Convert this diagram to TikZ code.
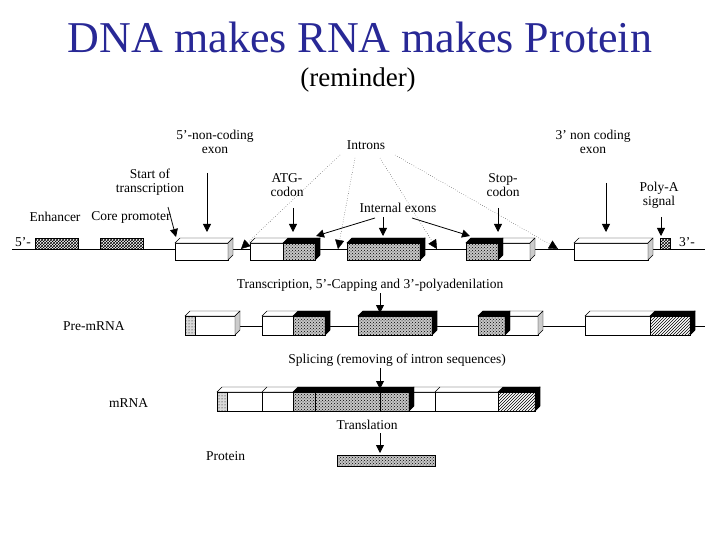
\documentclass[tikz,border=0pt]{standalone}
\usepackage{fontspec}
\setmainfont{Liberation Serif}
\usetikzlibrary{patterns,arrows.meta,calc}
\definecolor{ttl}{RGB}{40,40,150}
\newcommand\exbox[4]{% x1 x2 ytop ybot
 \filldraw[fill=white] (#1,#3) rectangle (#2,#4);
 \filldraw[fill=white] (#1,#3) -- ++(5,-5) -- ($(#2,#3)+(5,-5)$) -- (#2,#3) -- cycle;
 \filldraw[fill=gray!40] (#2,#3) -- ++(5,-5) -- ($(#2,#4)+(5,-5)$) -- (#2,#4) -- cycle;}
\newcommand\darkseg[4]{%
 \fill[gray!45] (#1,#3) rectangle (#2,#4);
 \fill[pattern=crosshatch dots] (#1,#3) rectangle (#2,#4);
 \draw (#1,#3) rectangle (#2,#4);
 \filldraw[fill=black] (#1,#3) -- ++(5,-5) -- ($(#2,#3)+(5,-5)$) -- (#2,#3) -- cycle;
 \filldraw[fill=black] (#2,#3) -- ++(5,-5) -- ($(#2,#4)+(5,-5)$) -- (#2,#4) -- cycle;}
\newcommand\wavyseg[4]{%
 \fill[white] (#1,#3) rectangle (#2,#4);
 \fill[pattern=north east lines] (#1,#3) rectangle (#2,#4);
 \draw (#1,#3) rectangle (#2,#4);
 \filldraw[fill=black] (#1,#3) -- ++(5,-5) -- ($(#2,#3)+(5,-5)$) -- (#2,#3) -- cycle;
 \filldraw[fill=black] (#2,#3) -- ++(5,-5) -- ($(#2,#4)+(5,-5)$) -- (#2,#4) -- cycle;}
\newcommand\capseg[4]{%
 \fill[gray!30] (#1,#3) rectangle (#2,#4);
 \fill[pattern=dots] (#1,#3) rectangle (#2,#4);
 \draw (#1,#3) rectangle (#2,#4);}
\begin{document}
\begin{tikzpicture}[x=1pt,y=-1pt,
 lbl/.style={font=\fontsize{13.5}{14}\selectfont,align=center,inner sep=1pt},
 arr/.style={-{Triangle[length=8pt,width=8pt]},thick},
 dot/.style={dotted,-{Triangle[length=9pt,width=9pt]}}]
\useasboundingbox (0,0) rectangle (720,540);
\node[text=ttl,font=\fontsize{44}{48}\selectfont] (title) at (360,37) {DNA makes RNA makes Protein};
\node[font=\fontsize{27}{30}\selectfont] (rem) at (358,80) {(reminder)};
% DNA
\coordinate (l0) at (12,249); \coordinate (l1) at (705,249);
\draw (l0) -- (l1);
\node[lbl,anchor=east] (f5) at (32,242) {5'-};
\node[lbl,anchor=west] (f3) at (678,242) {3'-};
\fill[white] (35,238) rectangle (78,249); \draw[pattern=crosshatch] (35,238) rectangle (78,249);
\fill[white] (100,238) rectangle (143,249); \draw[pattern=crosshatch] (100,238) rectangle (143,249);
\fill[white] (660,238) rectangle (670,249); \draw[pattern=crosshatch] (660,238) rectangle (670,249);
\node[lbl] (enh) at (55,217) {Enhancer};
\node[lbl] (cp) at (131,217) {Core promoter};
\exbox{175}{228}{243}{260}
\exbox{250}{315}{243}{260}\darkseg{283}{315}{243}{260}
\exbox{347}{420}{243}{260}\darkseg{347}{420}{243}{260}
\exbox{466}{530}{243}{260}\darkseg{466}{498}{243}{260}
\exbox{574}{648}{243}{260}
\node[lbl] (st) at (150,182) {Start of\\transcription};
\node[lbl] (nc5) at (215,142) {5'-non-coding\\exon};
\node[lbl] (atg) at (287,185) {ATG-\\codon};
\node[lbl] (intr) at (366,145) {Introns};
\node[lbl] (ie) at (398,208) {Internal exons};
\node[lbl] (stop) at (503,185) {Stop-\\codon};
\node[lbl] (nc3) at (593,142) {3' non coding\\exon};
\node[lbl] (pa) at (659,195) {Poly-A\\signal};
\coordinate (a1) at (176,237); \draw[arr] (168,207) -- (a1);
\coordinate (a2) at (207,232); \draw[arr] (207,173) -- (a2);
\coordinate (a3) at (293,232); \draw[arr] (293,208) -- (a3);
\coordinate (a4) at (316,236); \coordinate (a5) at (383,236); \coordinate (a6) at (470,236);
\draw[arr] (375,218) -- (a4); \draw[arr] (383,217) -- (a5); \draw[arr] (412,218) -- (a6);
\coordinate (a7) at (498,232); \draw[arr] (498,208) -- (a7);
\coordinate (a8) at (606,232); \draw[arr] (606,183) -- (a8);
\coordinate (a9) at (661,236); \draw[arr] (661,217) -- (a9);
\coordinate (t1) at (241,249); \coordinate (t2) at (338,249); \coordinate (t3) at (437,249); \coordinate (t4) at (558,249);
\draw[dot] (340,155) -- (t1); \draw[dot] (355,158) -- (t2);
\draw[dot] (380,158) -- (t3); \draw[dot] (395,155) -- (t4);
% pre-mRNA
\node[lbl,anchor=west] (pre) at (62,326) {Pre-mRNA};
\draw (185,326) -- (705,326);
\exbox{185}{235}{316}{335}\capseg{185}{195}{316}{335}
\exbox{262}{325}{316}{335}\darkseg{293}{325}{316}{335}
\exbox{358}{432}{316}{335}\darkseg{358}{432}{316}{335}
\exbox{478}{538}{316}{335}\darkseg{478}{505}{316}{335}
\exbox{585}{690}{316}{335}\wavyseg{650}{690}{316}{335}
\node[lbl] (tr) at (370,285) {Transcription, 5'-Capping and 3'-polyadenilation};
\coordinate (b1) at (380,313); \draw[arr] (380,293) -- (b1);
% mRNA
\node[lbl,anchor=west] (mr) at (108,403) {mRNA};
\exbox{217}{535}{392}{411}\capseg{217}{227}{392}{411}
\darkseg{293}{409}{392}{411}
\wavyseg{498}{535}{392}{411}
\foreach \xx in {262,315,380,435}{\draw (\xx,392) -- (\xx,411);}
\foreach \xx in {262,435}{\draw (\xx,392) -- ++(5,-5);}
\node[lbl] (sp) at (397,360) {Splicing (removing of intron sequences)};
\coordinate (b2) at (380,389); \draw[arr] (380,368) -- (b2);
% protein
\node[lbl,anchor=west] (pr) at (205,456) {Protein};
\fill[gray!45] (337,455) rectangle (435,466); \draw[pattern=crosshatch dots] (337,455) rectangle (435,466);
\node[lbl] (tl) at (367,425) {Translation};
\coordinate (b3) at (380,453); \draw[arr] (380,433) -- (b3);
\end{tikzpicture}
\end{document}
